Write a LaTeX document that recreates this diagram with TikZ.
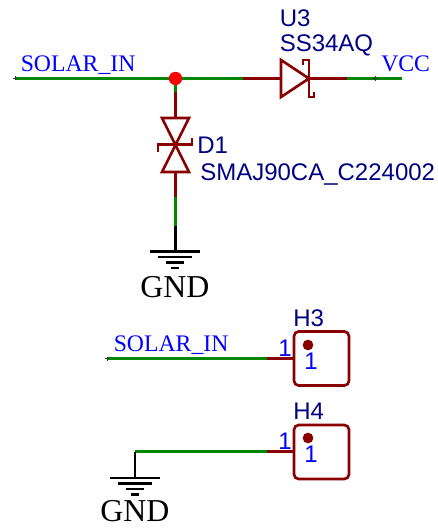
\documentclass[tikz,border=0pt]{standalone}
\usepackage{fontspec}
\setmainfont{Liberation Serif}
\setsansfont{Liberation Sans}
\definecolor{wiregreen}{HTML}{008800}
\definecolor{symred}{HTML}{880000}
\definecolor{refnavy}{HTML}{000080}
\tikzset{
  wire/.style={draw=wiregreen,line width=2pt},
  pinline/.style={draw=symred,line width=2pt},
  symb/.style={draw=symred,line width=2pt,line join=miter},
  netname/.style={text=blue,font=\rmfamily\fontsize{17.8}{18}\selectfont,inner sep=0pt},
  refname/.style={text=refnavy,font=\sffamily\fontsize{18}{18}\selectfont,inner sep=0pt},
  pinnum/.style={text=blue,font=\sffamily\fontsize{18}{18}\selectfont,inner sep=0pt},
  gndname/.style={text=black,font=\rmfamily\fontsize{23.9}{24}\selectfont,inner sep=0pt},
  gndbar/.style={draw=black,line width=2pt},
  tick/.style={draw=black!80,line width=0.4pt},
  pad/.style={symb,rounded corners=3.5pt},
  dotmark/.style={fill=symred,draw=none,circle,minimum size=8pt,inner sep=0pt},
}
\begin{document}
\begin{tikzpicture}[x=0.75pt,y=-0.75pt]
  \useasboundingbox (0,0) rectangle (438,528);
  % top net
  \coordinate (solarend) at (15,78.5);
  \coordinate (junction) at (175.5,78.5);
  \coordinate (u3in) at (243,78.5);
  \coordinate (u3a) at (281,78.5);
  \coordinate (u3k) at (309,78.5);
  \coordinate (u3out) at (347,78.5);
  \coordinate (vccend) at (402,78.5);
  \coordinate (vcctick) at (375,78.5);
  \draw[wire] (solarend) -- (junction);
  \draw[wire] (junction) -- (u3in);
  \draw[pinline] (u3in) -- (u3a);
  \draw[pinline] (u3k) -- (u3out);
  \draw[wire] (u3out) -- (vccend);
  \draw[tick] (solarend) ++(-2,0) -- ++(4,0) ++(-2,-2) -- ++(0,4);
  \draw[tick] (vcctick) ++(-2.5,0) -- ++(5,0) ++(-2.5,-2.5) -- ++(0,5);
  \node[netname,anchor=base west] (solarlabel) at (20.5,72) {SOLAR\_IN};
  \node[netname,anchor=base west] (vcclabel) at (381,72) {VCC};
  % U3
  \draw[symb] (u3a) -- (281,60) -- (u3k) -- (281,97) -- cycle;
  \draw[symb] (303,65) -- (303,60) -- (309,60) -- (309,97) -- (314,97) -- (314,92);
  \node[refname,anchor=base west] (u3ref) at (279.5,27) {U3};
  \node[refname,anchor=base west] (u3val) at (279.5,52) {SS34AQ};
  % D1
  \coordinate (d1top) at (175.5,118);
  \coordinate (d1bot) at (175.5,172);
  \coordinate (d1mid) at (175.5,145);
  \coordinate (d1red) at (175.5,92);
  \coordinate (d1out) at (175.5,197);
  \coordinate (gndstem) at (175.5,226);
  \coordinate (gndtop) at (175.5,251);
  \draw[wire] (junction) -- (d1red);
  \draw[pinline] (d1red) -- (d1top);
  \draw[symb] (162,118) -- (189,118) -- (d1mid) -- cycle;
  \draw[symb] (162,172) -- (189,172) -- (d1mid) -- cycle;
  \draw[symb] (158,152) -- (158,144.5) -- (192,144.5) -- (192,138);
  \draw[pinline] (d1bot) -- (d1out);
  \draw[wire] (d1out) -- (gndstem);
  \draw[gndbar] (gndstem) -- (gndtop);
  \node[fill=red,draw=none,circle,minimum size=10pt,inner sep=0pt] (dot) at (junction) {};
  \node[refname,anchor=base west] (d1ref) at (197,153) {D1};
  \node[refname,anchor=base west] (d1val) at (200,180) {SMAJ90CA\_C224002};
  % GND of D1
  \draw[gndbar] (150,251.5) -- (200,251.5);
  \draw[gndbar] (158,257) -- (192,257);
  \draw[gndbar] (166,262.5) -- (184,262.5);
  \draw[gndbar] (171,268) -- (179,268);
  \node[gndname,anchor=base] (gnda) at (175,297.5) {GND};
  % H3
  \coordinate (solarendb) at (107,358.5);
  \coordinate (h3wire) at (267,358.5);
  \coordinate (h3pin) at (294,358.5);
  \draw[wire] (solarendb) -- (h3wire);
  \draw[pinline] (h3wire) -- (h3pin);
  \draw[tick] (solarendb) ++(-2,0) -- ++(4,0) ++(-2,-2) -- ++(0,4);
  \draw[pad] (294,331.5) rectangle (349,385.5);
  \node[dotmark] (h3dot) at (308,345) {};
  \node[netname,anchor=base west] (solarlabelb) at (113.5,351.5) {SOLAR\_IN};
  \node[refname,anchor=base west] (h3ref) at (293,326) {H3};
  \node[pinnum,anchor=base] (h3num) at (285,356) {1};
  \node[pinnum,anchor=base] (h3pad) at (311,369) {1};
  % H4
  \coordinate (gndcorner) at (135,451.5);
  \coordinate (h4wire) at (267,451.5);
  \coordinate (h4pin) at (294,451.5);
  \coordinate (gndtopb) at (135,478);
  \draw[wire] (gndcorner) -- (h4wire);
  \draw[pinline] (h4wire) -- (h4pin);
  \draw[gndbar] (gndcorner) -- (gndtopb);
  \draw[pad] (294,425) rectangle (349,479);
  \node[dotmark] (h4dot) at (308,438) {};
  \node[refname,anchor=base west] (h4ref) at (293,419.5) {H4};
  \node[pinnum,anchor=base] (h4num) at (285,449) {1};
  \node[pinnum,anchor=base] (h4pad) at (311,462) {1};
  % GND of H4
  \draw[gndbar] (110,478) -- (160,478);
  \draw[gndbar] (118,483.5) -- (152,483.5);
  \draw[gndbar] (126,489) -- (144,489);
  \draw[gndbar] (131,494.5) -- (139,494.5);
  \node[gndname,anchor=base] (gndb) at (135,521.5) {GND};
\end{tikzpicture}
\end{document}
